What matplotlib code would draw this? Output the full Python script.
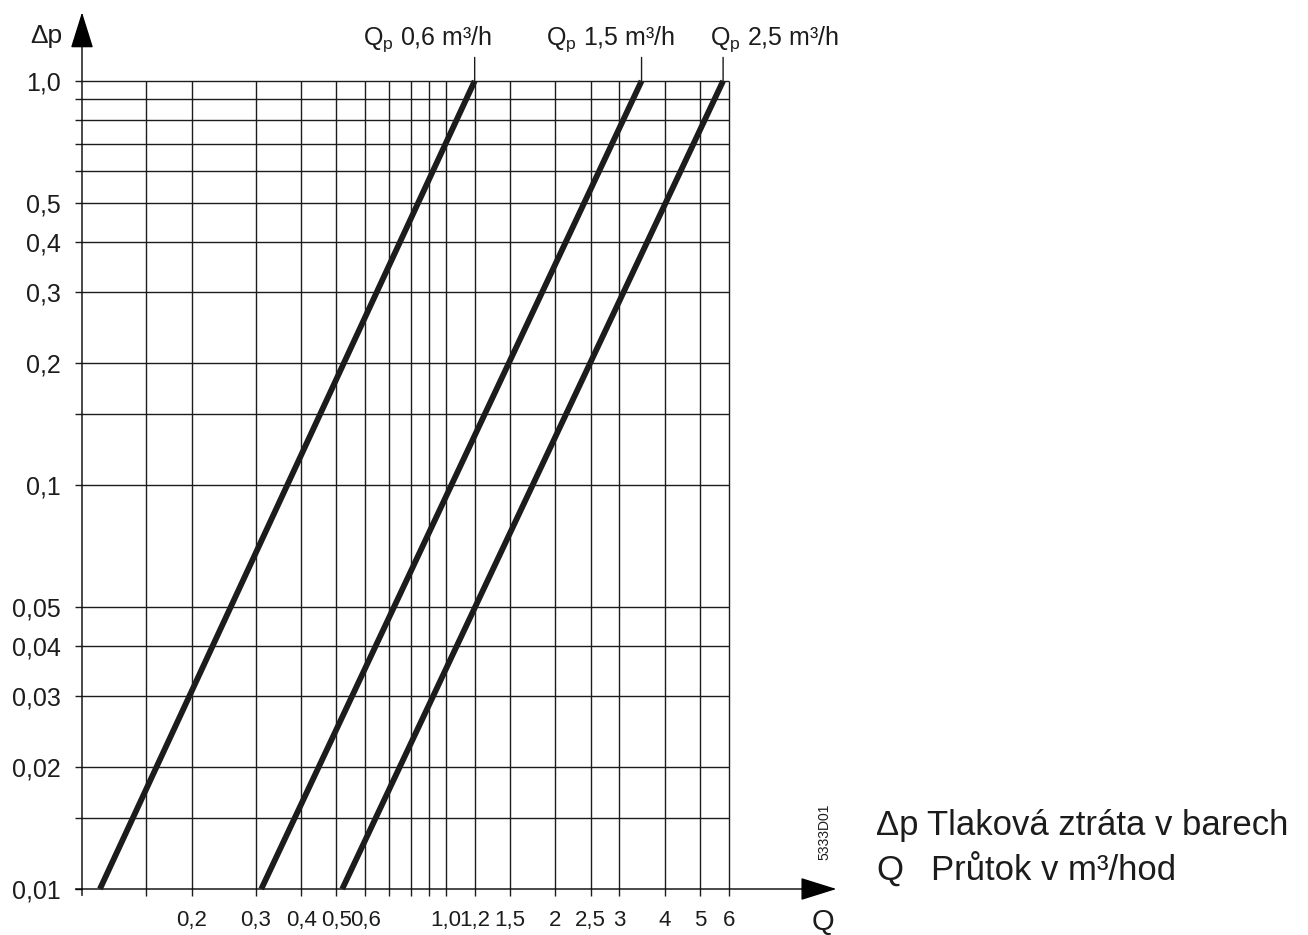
import matplotlib.pyplot as plt
from matplotlib import font_manager
import numpy as np

# grid values (m3/h and bar)
Q_GRID = [0.15, 0.2, 0.3, 0.4, 0.5, 0.6, 0.7, 0.8, 0.9, 1.0, 1.2, 1.5, 2, 2.5, 3, 4, 5, 6]
Q_TICK_LABELS = ["", "0,2", "0,3", "0,4", "0,5", "0,6", "", "", "", "1,0", "1,2", "1,5",
                 "2", "2,5", "3", "4", "5", "6"]
DP_GRID = [0.01, 0.015, 0.02, 0.03, 0.04, 0.05, 0.1, 0.15, 0.2, 0.3, 0.4, 0.5,
           0.6, 0.7, 0.8, 0.9, 1.0]
DP_TICK_LABELS = ["0,01", "", "0,02", "0,03", "0,04", "0,05", "0,1", "", "0,2", "0,3",
                  "0,4", "0,5", "", "", "", "", "1,0"]

# meter curves: flow at dp = 0.01 bar and at dp = 1.0 bar
SERIES = ["0,6", "1,5", "2,5"]
DP_ENDS = [0.01, 1.0]
Q_LOW = [0.112, 0.311, 0.519]
Q_HIGH = [1.2, 3.45, 5.78]

LABEL_DX = [-34, -22, 37]   # label offsets from leader, points

INK = "#1c1c1c"

plt.rcParams["font.family"] = ["Liberation Sans", "DejaVu Sans"]
plt.rcParams["mathtext.fontset"] = "custom"
plt.rcParams["mathtext.rm"] = "Liberation Sans"
plt.rcParams["mathtext.it"] = "Liberation Sans"

names = {f.name for f in font_manager.fontManager.ttflist}
narrow = "Liberation Sans Narrow" if "Liberation Sans Narrow" in names else "Liberation Sans"

fig = plt.figure(figsize=(13.08, 9.35), dpi=100)
ax = fig.add_axes([82 / 1308, 46 / 935, 647 / 1308, 808 / 935])
ax.set_xscale("log")
ax.set_yscale("log")
ax.set_xlim(0.1, 6)
ax.set_ylim(0.01, 1.0)
for s in ax.spines.values():
    s.set_visible(False)

ax.vlines(Q_GRID, DP_GRID[0], DP_GRID[-1], color=INK, lw=1.0, clip_on=False, zorder=1)
ax.hlines(DP_GRID[1:], 0.1, Q_GRID[-1], color=INK, lw=1.0, clip_on=False, zorder=1)

ax.set_xticks(Q_GRID)
ax.set_xticklabels(Q_TICK_LABELS)
ax.set_yticks(DP_GRID)
ax.set_yticklabels(DP_TICK_LABELS)
ax.xaxis.set_minor_locator(plt.NullLocator())
ax.yaxis.set_minor_locator(plt.NullLocator())
ax.tick_params(axis="both", which="major", direction="out", length=5, width=1.0,
               color=INK, labelcolor=INK, labelsize=18, pad=10)
for lbl in ax.get_xticklabels():
    lbl.set_family(narrow)
    lbl.set_fontsize(19 if narrow != "Liberation Sans" else 16)

# axes with arrow heads
arrow = dict(arrowstyle="-|>,head_length=1.15,head_width=0.36", color="black", lw=1.0,
             mutation_scale=20, shrinkA=0, shrinkB=0)
ax.annotate("", xy=(0, 1.085), xytext=(0, -0.008), xycoords="axes fraction",
            arrowprops=arrow, annotation_clip=False)
ax.annotate("", xy=(1.166, 0), xytext=(-0.01, 0), xycoords="axes fraction",
            arrowprops=arrow, annotation_clip=False)

for lo, hi, name, dx in zip(Q_LOW, Q_HIGH, SERIES, LABEL_DX):
    ax.plot([lo, hi], DP_ENDS, color=INK, lw=4.2, solid_capstyle="butt",
            clip_on=False, zorder=3)
    ax.annotate("", xy=(hi, DP_ENDS[-1]), xytext=(0, 17), textcoords="offset points",
                arrowprops=dict(arrowstyle="-", color=INK, lw=1.0, shrinkA=0, shrinkB=0),
                annotation_clip=False)
    ax.annotate(r"Q$_{\rm p}$ " + name + " m³/h", xy=(hi, DP_ENDS[-1]),
                xytext=(dx, 26), textcoords="offset points", ha="center",
                va="baseline", fontsize=18, color=INK, annotation_clip=False)

ax.text(-0.03, 1.047, "Δp", transform=ax.transAxes, ha="right", va="baseline",
        fontsize=19, color=INK)
ax.text(1.145, -0.041, "Q", transform=ax.transAxes, ha="center", va="center",
        fontsize=21, color=INK)
ax.text(1.147, 0.071, "5333D01", transform=ax.transAxes, ha="center", va="center",
        rotation=90, fontsize=10, color=INK)

fig.text(876 / 1308, 100 / 935, "Δp", fontsize=25, color=INK, va="baseline")
fig.text(927 / 1308, 100 / 935, "Tlaková ztráta v barech", fontsize=25, color=INK,
         va="baseline")
fig.text(876 / 1308, 55 / 935, "Q", fontsize=25, color=INK, va="baseline")
fig.text(931 / 1308, 55 / 935, "Průtok v m³/hod", fontsize=25, color=INK, va="baseline")

fig.savefig("out.png", dpi=100, facecolor="white")
